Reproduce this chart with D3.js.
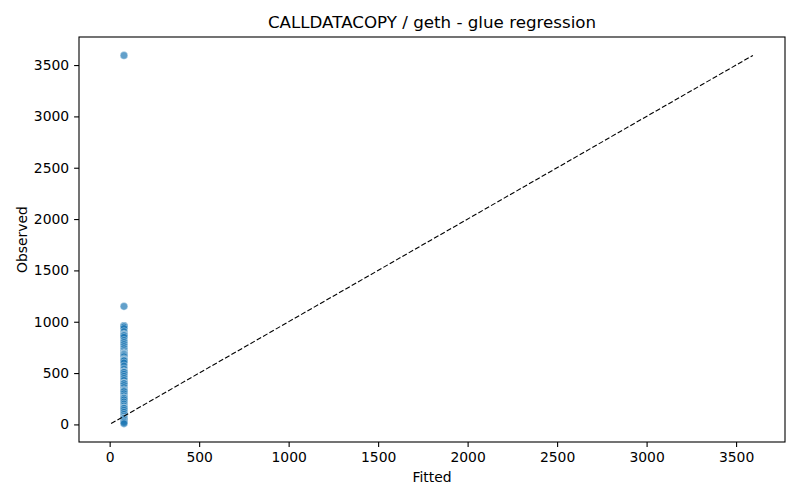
<!DOCTYPE html>
<html>
<head>
<meta charset="utf-8">
<script src="https://cdn.jsdelivr.net/npm/d3@7"></script>
<style>
  body { margin: 0; background: #fff; }
  text { font-family: "DejaVu Sans", sans-serif; fill: #000; }
</style>
</head>
<body>
<div id="chart"></div>
<script>
const observed = [3594, 1150,
  960, 960, 958, 955, 950, 935, 905, 880, 872, 872, 870, 865, 850, 820, 800, 780,
  760, 740, 720, 705, 695, 690, 688, 686, 680, 670, 660, 640, 630, 628, 626, 620,
  600, 570, 540, 515, 512, 510, 508, 490, 470, 450, 430, 405, 402, 400, 398, 380,
  360, 340, 330, 328, 320, 300, 280, 262, 258, 255, 240, 220, 200, 180, 162, 160,
  158, 140, 120, 100, 80, 64, 60, 58, 45, 30, 20, 8];
const fitted = [80, 80,
  80, 80, 80, 80, 80, 80, 80, 80, 80, 80, 80, 80, 80, 80, 80, 80,
  80, 80, 80, 80, 80, 80, 80, 80, 80, 80, 80, 80, 80, 80, 80, 80,
  80, 80, 80, 80, 80, 80, 80, 80, 80, 80, 80, 80, 80, 80, 80, 80,
  80, 80, 80, 80, 80, 80, 80, 80, 80, 80, 80, 80, 80, 80, 80, 80,
  80, 80, 80, 80, 80, 80, 80, 80, 80, 80, 80, 80];

const xTicks = [0, 500, 1000, 1500, 2000, 2500, 3000, 3500];
const yTicks = [0, 500, 1000, 1500, 2000, 2500, 3000, 3500];

const width = 800, height = 500;
const margin = { top: 37, right: 15, bottom: 58, left: 79 };

const points = observed.map((o, i) => ({ x: fitted[i], y: o }));

// identity line spans the joint range of both series
const lo = Math.min(d3.min(fitted), d3.min(observed));
const hi = Math.max(d3.max(fitted), d3.max(observed));
const pad = (hi - lo) * 0.05;

const x = d3.scaleLinear().domain([lo - pad, hi + pad]).range([margin.left, width - margin.right]);
const y = d3.scaleLinear().domain([lo - pad, hi + pad]).range([height - margin.bottom, margin.top]);

const svg = d3.select("#chart").append("svg")
    .attr("width", width)
    .attr("height", height);

// points
svg.append("g")
  .selectAll("circle")
  .data(points)
  .enter().append("circle")
    .attr("cx", d => x(d.x))
    .attr("cy", d => y(d.y))
    .attr("r", 3.8)
    .attr("fill", "#1f77b4")
    .attr("fill-opacity", 0.7)
    .attr("stroke", "#fff")
    .attr("stroke-opacity", 0.6)
    .attr("stroke-width", 0.6);

// y = x reference
svg.append("line")
    .attr("x1", x(lo)).attr("y1", y(lo))
    .attr("x2", x(hi)).attr("y2", y(hi))
    .attr("stroke", "#000")
    .attr("stroke-width", 1.1)
    .attr("stroke-dasharray", "5.1,2.2");

// axes
const fmt = d3.format("d");
const xAxis = svg.append("g")
    .attr("transform", `translate(0,${height - margin.bottom})`)
    .call(d3.axisBottom(x).tickValues(xTicks).tickFormat(fmt).tickSize(4.9).tickPadding(4.9));
const yAxis = svg.append("g")
    .attr("transform", `translate(${margin.left},0)`)
    .call(d3.axisLeft(y).tickValues(yTicks).tickFormat(fmt).tickSize(4.9).tickPadding(4.9));

[xAxis, yAxis].forEach(a => {
  a.select(".domain").remove();
  a.selectAll("line").attr("stroke", "#000").attr("stroke-width", 1.1);
  a.selectAll("text").style("font-size", "13.9px").style("font-family", "DejaVu Sans");
});

// frame
svg.append("rect")
    .attr("x", margin.left).attr("y", margin.top)
    .attr("width", width - margin.left - margin.right)
    .attr("height", height - margin.top - margin.bottom)
    .attr("fill", "none")
    .attr("stroke", "#000")
    .attr("stroke-width", 1.1);

svg.append("text")
    .attr("x", (margin.left + width - margin.right) / 2)
    .attr("y", 28)
    .attr("text-anchor", "middle")
    .style("font-size", "16.7px")
    .text("CALLDATACOPY / geth - glue regression");

svg.append("text")
    .attr("x", (margin.left + width - margin.right) / 2)
    .attr("y", 482)
    .attr("text-anchor", "middle")
    .style("font-size", "13.9px")
    .text("Fitted");

svg.append("text")
    .attr("transform", `translate(27,${(margin.top + height - margin.bottom) / 2}) rotate(-90)`)
    .attr("text-anchor", "middle")
    .style("font-size", "13.9px")
    .text("Observed");
</script>
</body>
</html>
